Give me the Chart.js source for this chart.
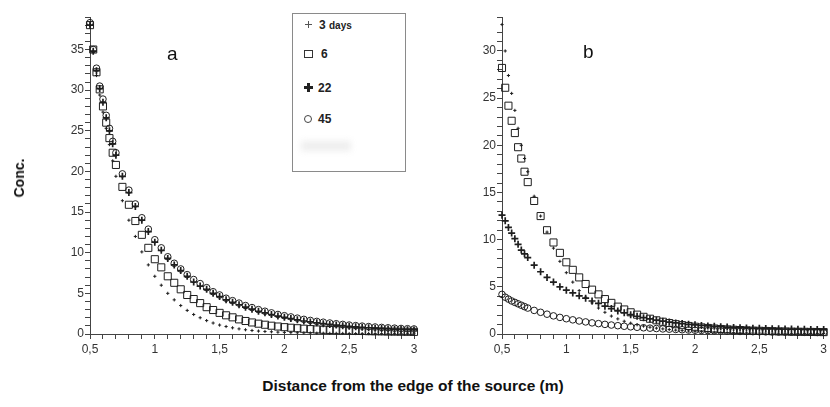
<!DOCTYPE html>
<html>
<head>
<meta charset="utf-8">
<script src="https://cdn.jsdelivr.net/npm/chart.js@4.4.1/dist/chart.umd.min.js"></script>
<style>
  body { margin: 0; background: #fff; width: 830px; height: 407px; position: relative; overflow: hidden;
         font-family: "Liberation Sans", Arial, sans-serif; }
  canvas { position: absolute; top: 0; }
  #plotA { left: 0; }
  #plotB { left: 440px; }
  .lbl { position: absolute; font-size: 19px; color: #111; line-height: 1; }
  .title { position: absolute; font-weight: bold; color: #111; white-space: nowrap; line-height: 1; }
  #legend { position: absolute; left: 292px; top: 13px; width: 112px; height: 157px; border: 1px solid #8a8a8a; background: #fff; }
  .item { position: absolute; left: 0; font-weight: bold; font-size: 12px; color: #222; line-height: 1; }
  .mk { position: absolute; box-sizing: border-box; }
</style>
</head>
<body>
<canvas id="plotA" width="425" height="360"></canvas>
<canvas id="plotB" width="390" height="360"></canvas>

<div class="lbl" style="left:167px; top:44px;">a</div>
<div class="lbl" style="left:583px; top:42px;">b</div>

<div id="legend">
  <div class="mk" style="left:12px; top:10px; width:7px; height:1px; background:#555;"></div>
  <div class="mk" style="left:15px; top:7px; width:1px; height:7px; background:#555;"></div>
  <div class="item" style="left:26px; top:5px;">3 <span style="font-size:10px;">days</span></div>

  <div class="mk" style="left:11px; top:36px; width:9px; height:8px; border:1px solid #333;"></div>
  <div class="item" style="left:28px; top:34px;">6</div>

  <div class="mk" style="left:11px; top:72px; width:9px; height:3px; background:#222;"></div>
  <div class="mk" style="left:14px; top:69px; width:3px; height:9px; background:#222;"></div>
  <div class="item" style="left:25px; top:68px;">22</div>

  <div class="mk" style="left:11px; top:101px; width:8px; height:8px; border:1px solid #444; border-radius:50%;"></div>
  <div class="item" style="left:25px; top:99px;">45</div>

  <div class="mk" style="left:8px; top:127px; width:50px; height:10px; background:#eee; filter:blur(3px);"></div>
</div>

<div class="title" style="left:19px; top:178px; font-size:14px; transform: translate(-50%,-50%) rotate(-90deg);">Conc.</div>
<div class="title" style="left:413px; top:378px; font-size:15.5px; transform: translateX(-50%);">Distance from the edge of the source (m)</div>

<script>
// distance from the edge of the source (m)
var xGrid = [0.5, 0.525, 0.55, 0.575, 0.6, 0.625, 0.65, 0.675, 0.7, 0.75, 0.8, 0.85, 0.9, 0.95,
  1.0, 1.05, 1.1, 1.15, 1.2, 1.25, 1.3, 1.35, 1.4, 1.45, 1.5, 1.55, 1.6, 1.65, 1.7, 1.75, 1.8, 1.85,
  1.9, 1.95, 2.0, 2.05, 2.1, 2.15, 2.2, 2.25, 2.3, 2.35, 2.4, 2.45, 2.5, 2.55, 2.6, 2.65, 2.7, 2.75,
  2.8, 2.85, 2.9, 2.95, 3.0];

var seriesNames = ["3 days", "6", "22", "45"];

// panel a
var a3 = [38.0, 34.8, 31.8, 29.4, 27.3, 25.3, 23.3, 21.3, 19.4, 16.4, 14.0, 12.0, 10.1, 8.5,
  7.1, 6.0, 5.0, 4.2, 3.5, 2.9, 2.4, 2.0, 1.65, 1.35, 1.1, 0.92, 0.76, 0.63, 0.52, 0.43, 0.36, 0.31,
  0.27, 0.23, 0.2, 0.17, 0.15, 0.13, 0.12, 0.1, 0.09, 0.08, 0.08, 0.07, 0.06, 0.06, 0.05, 0.05, 0.05, 0.04,
  0.04, 0.04, 0.04, 0.03, 0.03];
var a6 = [38.0, 35.0, 32.2, 30.1, 28.0, 26.0, 24.1, 22.3, 20.8, 18.1, 15.9, 13.9, 12.2, 10.6,
  9.2, 8.2, 7.1, 6.3, 5.5, 4.8, 4.3, 3.8, 3.3, 2.95, 2.6, 2.3, 2.05, 1.8, 1.6, 1.42, 1.27, 1.14,
  1.02, 0.92, 0.84, 0.77, 0.71, 0.65, 0.6, 0.56, 0.52, 0.49, 0.46, 0.43, 0.41, 0.39, 0.37, 0.35, 0.33, 0.32,
  0.3, 0.29, 0.28, 0.27, 0.26];
var a22 = [38.0, 34.8, 32.4, 30.2, 28.5, 26.6, 25.0, 23.4, 22.0, 19.4, 17.4, 15.7, 14.0, 12.6,
  11.3, 10.3, 9.3, 8.5, 7.8, 7.1, 6.4, 5.9, 5.5, 5.0, 4.6, 4.2, 3.9, 3.6, 3.3, 3.05, 2.8, 2.6,
  2.4, 2.2, 2.05, 1.9, 1.75, 1.6, 1.48, 1.37, 1.27, 1.18, 1.1, 1.02, 0.95, 0.88, 0.82, 0.77, 0.72, 0.67,
  0.63, 0.59, 0.56, 0.53, 0.5];
var a45 = [38.3, 35.0, 32.7, 30.5, 28.9, 26.9, 25.3, 23.7, 22.3, 19.7, 17.7, 16.0, 14.3, 12.9,
  11.6, 10.6, 9.5, 8.7, 8.0, 7.3, 6.7, 6.2, 5.7, 5.2, 4.8, 4.4, 4.1, 3.8, 3.5, 3.25, 3.0, 2.8,
  2.6, 2.4, 2.25, 2.1, 1.95, 1.8, 1.67, 1.55, 1.45, 1.35, 1.26, 1.18, 1.1, 1.03, 0.97, 0.91, 0.86, 0.81,
  0.76, 0.72, 0.68, 0.65, 0.62];

// panel b
var b3 = [32.8, 30.0, 27.4, 25.5, 23.7, 21.8, 20.0, 18.6, 17.2, 14.6, 12.5, 10.8, 9.1, 7.7,
  6.5, 5.5, 4.6, 3.9, 3.3, 2.75, 2.3, 1.9, 1.6, 1.35, 1.15, 0.98, 0.84, 0.72, 0.62, 0.54, 0.47, 0.41,
  0.36, 0.32, 0.28, 0.25, 0.22, 0.2, 0.18, 0.16, 0.14, 0.13, 0.12, 0.11, 0.1, 0.09, 0.08, 0.08, 0.07, 0.07,
  0.06, 0.06, 0.05, 0.05, 0.05];
var b6 = [28.2, 26.1, 24.2, 22.6, 21.3, 19.8, 18.6, 17.2, 16.1, 14.1, 12.5, 11.0, 9.7, 8.6,
  7.6, 6.8, 6.0, 5.3, 4.7, 4.2, 3.7, 3.3, 2.9, 2.6, 2.3, 2.05, 1.82, 1.62, 1.45, 1.3, 1.16, 1.04,
  0.94, 0.85, 0.77, 0.7, 0.64, 0.58, 0.53, 0.49, 0.45, 0.42, 0.39, 0.36, 0.34, 0.32, 0.3, 0.28, 0.27, 0.25,
  0.24, 0.23, 0.22, 0.21, 0.2];
var b22 = [12.6, 12.0, 11.3, 10.7, 10.1, 9.5, 8.9, 8.5, 8.1, 7.3, 6.6, 6.0, 5.5, 5.0,
  4.65, 4.35, 4.05, 3.8, 3.5, 3.25, 2.95, 2.7, 2.45, 2.25, 2.05, 1.88, 1.73, 1.6, 1.47, 1.36, 1.26, 1.17,
  1.1, 1.03, 0.97, 0.91, 0.86, 0.81, 0.77, 0.73, 0.7, 0.67, 0.64, 0.62, 0.6, 0.58, 0.56, 0.55, 0.53, 0.52,
  0.51, 0.5, 0.49, 0.48, 0.47];
var b45 = [4.2, 3.9, 3.7, 3.5, 3.35, 3.2, 3.05, 2.9, 2.75, 2.5, 2.3, 2.1, 1.92, 1.76,
  1.62, 1.5, 1.38, 1.28, 1.18, 1.1, 1.02, 0.95, 0.88, 0.82, 0.76, 0.71, 0.66, 0.62, 0.58, 0.54, 0.51, 0.48,
  0.45, 0.42, 0.4, 0.38, 0.36, 0.34, 0.32, 0.3, 0.29, 0.27, 0.26, 0.25, 0.24, 0.23, 0.22, 0.21, 0.2, 0.19,
  0.18, 0.18, 0.17, 0.16, 0.16];

var ink = "#1e1e1e";
var axisColor = "#444";

// marker look per series (same order as seriesNames)
var markerStyles = [
  { pointStyle: "cross", pointRadius: 1.6, borderWidth: 1 },
  { pointStyle: "rect", pointRadius: 5, borderWidth: 1 },
  { pointStyle: "cross", pointRadius: 3.5, borderWidth: 1.7 },
  { pointStyle: "circle", pointRadius: 3.3, borderWidth: 1 }
];

function toPoints(values) {
  return values.map((v, i) => ({ x: xGrid[i], y: v }));
}

function makeDatasets(list) {
  return list.map((values, i) => ({
    label: seriesNames[i],
    data: toPoints(values),
    showLine: false,
    pointStyle: markerStyles[i].pointStyle,
    pointRadius: markerStyles[i].pointRadius,
    pointBorderWidth: markerStyles[i].borderWidth,
    borderColor: ink,
    pointBorderColor: ink,
    pointBackgroundColor: "rgba(0,0,0,0)",
    clip: false
  }));
}

function xLabel(v) {
  let t = Math.round(v * 10);
  return t % 5 === 0 ? String(t / 10).replace(".", ",") : "";
}

function yLabel(v) {
  return (Number.isInteger(v) && v % 5 === 0) ? String(v) : "";
}

function makeOptions(yMax, axisWidth, padRight) {
  return {
    responsive: false,
    animation: false,
    layout: { padding: { top: 17, right: padRight, left: 0, bottom: 0 } },
    plugins: {
      legend: { display: false },
      tooltip: { enabled: false }
    },
    scales: {
      x: {
        type: "linear",
        min: 0.5,
        max: 3,
        afterFit: (s) => { s.height = 26; },
        border: { display: true, color: axisColor, width: 1 },
        grid: { drawOnChartArea: false, drawTicks: true, tickLength: 5, tickColor: axisColor },
        ticks: {
          stepSize: 0.1,
          autoSkip: false,
          maxRotation: 0,
          padding: 3,
          color: "#333",
          font: { family: "Liberation Sans", size: 12 },
          callback: xLabel
        }
      },
      y: {
        type: "linear",
        min: 0,
        max: yMax,
        afterFit: (s) => { s.width = axisWidth; },
        border: { display: true, color: axisColor, width: 1 },
        grid: { drawOnChartArea: false, drawTicks: true, tickLength: 5, tickColor: axisColor },
        ticks: {
          stepSize: 1,
          autoSkip: false,
          padding: 1,
          color: "#333",
          font: { family: "Liberation Sans", size: 12 },
          callback: yLabel
        }
      }
    }
  };
}

new Chart("plotA", {
  type: "scatter",
  data: { datasets: makeDatasets([a3, a6, a22, a45]) },
  options: makeOptions(39, 90, 11)
});

new Chart("plotB", {
  type: "scatter",
  data: { datasets: makeDatasets([b3, b6, b22, b45]) },
  options: makeOptions(33.6, 62, 3)
});
</script>
</body>
</html>
